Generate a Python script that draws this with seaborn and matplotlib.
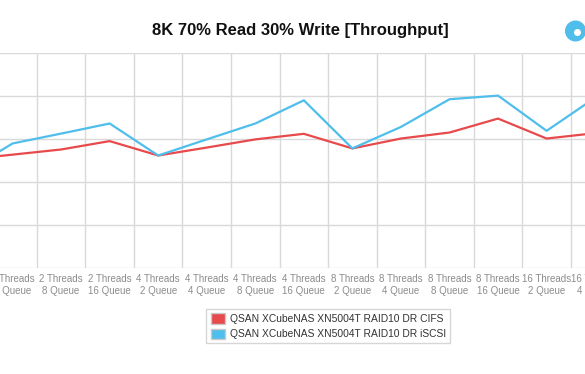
import pandas as pd
import seaborn as sns
import matplotlib.pyplot as plt
from matplotlib.patches import Patch, Ellipse

# Data (chart is a cropped view: first and last categories sit just outside the frame)
categories = ['2 Threads\n2 Queue', '2 Threads\n4 Queue', '2 Threads\n8 Queue', '2 Threads\n16 Queue',
              '4 Threads\n2 Queue', '4 Threads\n4 Queue', '4 Threads\n8 Queue', '4 Threads\n16 Queue',
              '8 Threads\n2 Queue', '8 Threads\n4 Queue', '8 Threads\n8 Queue', '8 Threads\n16 Queue',
              '16 Threads\n2 Queue', '16 Threads\n4 Queue']
cifs = [50.4, 52.8, 55.2, 59.1, 52.4, 56.1, 59.9, 62.5, 55.7, 60.3, 63.1, 69.6, 60.3, 62.8]
iscsi = [44.3, 58.0, 62.6, 67.3, 52.4, 59.9, 67.3, 78.1, 55.7, 65.7, 78.6, 80.3, 63.9, 79.3]
series_names = ['QSAN XCubeNAS XN5004T RAID10 DR CIFS', 'QSAN XCubeNAS XN5004T RAID10 DR iSCSI']
colors = ['#e84a4c', '#4fbeeb']
y_ticks = [0, 20, 40, 60, 80, 100]

df = pd.concat([
    pd.DataFrame({'Config': categories, 'Throughput': cifs, 'Series': series_names[0]}),
    pd.DataFrame({'Config': categories, 'Throughput': iscsi, 'Series': series_names[1]}),
])

sns.set_style('white')
plt.rcParams['font.family'] = ['Liberation Sans', 'DejaVu Sans']

W, H = 585, 374
fig = plt.figure(figsize=(W / 100, H / 100), dpi=100)

# axes wider than the figure so the outer categories get cut like the reference
step = 48.55
x0 = -36.0
left_px = x0 - 0.5 * step
right_px = x0 + (len(categories) - 0.5) * step
top_px, bottom_px = 53.3, 268.0
ax = fig.add_axes([left_px / W, 1 - bottom_px / H, (right_px - left_px) / W, (bottom_px - top_px) / H])

sns.lineplot(data=df, x='Config', y='Throughput', hue='Series', palette=colors,
             sort=False, linewidth=1.6, legend=False, ax=ax)

ax.set_xlim(-0.5, len(categories) - 0.5)
ax.set_ylim(0, 100)
ax.set_yticks(y_ticks)
ax.set_yticklabels([])
ax.set_xticks(range(len(categories)))
ax.set_xticklabels(categories, fontsize=7, color='#8c8c8c', linespacing=1.25)
ax.set_xticks([i + 0.5 for i in range(-1, len(categories))], minor=True)
ax.grid(True, axis='y', which='major', color='#d9d9d9', linewidth=1)
ax.grid(True, axis='x', which='minor', color='#d9d9d9', linewidth=1)
ax.grid(False, axis='x', which='major')
ax.tick_params(axis='x', which='major', length=0, pad=4)
ax.tick_params(axis='x', which='minor', length=2, color='#d9d9d9')
ax.tick_params(axis='y', length=0)
ax.set_xlabel('')
ax.set_ylabel('')
for s in ax.spines.values():
    s.set_visible(False)

# title (centred on the original, wider chart)
fig.text(300.7 / W, 1 - 30 / H, '8K 70% Read 30% Write [Throughput]',
         ha='center', va='center', fontsize=12, fontweight='bold', color='#111111')

# small icon at top right
fig.patches.append(Ellipse((575.5 / W, 1 - 31 / H), 21 / W, 21 / H, transform=fig.transFigure,
                           facecolor='#4fbeeb', edgecolor='none'))
fig.patches.append(Ellipse((577.5 / W, 1 - 32.5 / H), 7 / W, 7 / H, transform=fig.transFigure,
                           facecolor='white', edgecolor='none'))

handles = [Patch(facecolor=c, edgecolor='#c8c8c8', linewidth=1) for c in colors]
leg = fig.legend(handles, series_names, loc='center', bbox_to_anchor=(328.4 / W, 1 - 326.3 / H),
                 fontsize=7.4, frameon=True, fancybox=False, handlelength=1.4, handleheight=1.2,
                 handletextpad=0.5, borderpad=0.4, labelspacing=0.45, edgecolor='#cccccc')
for t in leg.get_texts():
    t.set_color('#333333')
leg.get_frame().set_linewidth(1)

fig.savefig('out.png', dpi=100)
